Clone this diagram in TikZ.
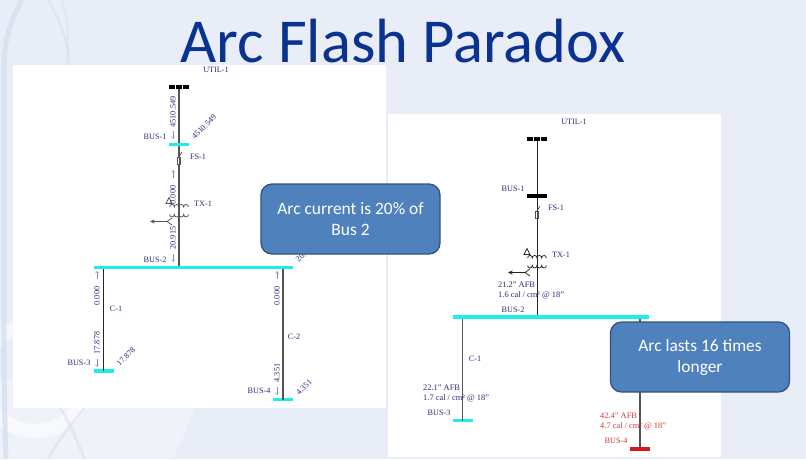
\documentclass[tikz,border=0pt]{standalone}
\usepackage{fontspec}
\setmainfont{Liberation Serif}
\newfontfamily\callfont{Carlito}
\usetikzlibrary{arrows.meta}
\definecolor{bgblue}{HTML}{E8EDF7}
\definecolor{bglight}{HTML}{EFF2F9}
\definecolor{bgband}{HTML}{D5E0EF}
\definecolor{titleblue}{HTML}{0A3290}
\definecolor{lbl}{HTML}{2B2B78}
\definecolor{busc}{HTML}{1FECEC}
\definecolor{wire}{HTML}{555555}
\definecolor{callfill}{HTML}{4F81BD}
\definecolor{calldraw}{HTML}{2F5583}
\definecolor{redc}{HTML}{D23A3A}
\definecolor{busred}{HTML}{D81818}
\tikzset{
  x=1pt,y=-1pt,
  lab/.style={font=\fontsize{8.2}{9}\selectfont,text=lbl,inner sep=0pt},
  afb/.style={font=\fontsize{8.4}{10}\selectfont,text=lbl,inner sep=0pt,align=left,anchor=west},
  afbred/.style={afb,text=redc},
  vlab/.style={lab,rotate=90},
  dlab/.style={lab,rotate=45},
  tinyarrow/.style={draw=lbl!55,line width=0.45pt,-{Straight Barb[length=2pt,width=3.2pt]}},
  busbar/.style={fill=busc,minimum height=3.8pt,inner sep=0pt,outer sep=0pt},
  busblack/.style={busbar,fill=black},
  busredbar/.style={busbar,fill=busred},
  wireline/.style={draw=wire,line width=1.2pt},
  blackline/.style={draw=black!85,line width=0.9pt},
  panel/.style={fill=white,draw=none},
  callout/.style={fill=callfill,draw=calldraw,line width=1.3pt,rounded corners=11pt,
    minimum width=179pt,minimum height=70pt,text=white,align=center,
    font=\callfont\fontsize{17.4}{21}\selectfont},
  sym/.style={draw=#1,line width=0.75pt},
  band/.style={draw=bgband,line width=#1},
}
% transformer symbol: x of the line, y of the upper coil, colour
\newcommand{\txsym}[3]{%
  \begin{scope}[shift={(#1,#2)}]
    \draw[sym=#3] (-9.4,0) arc[start angle=180,end angle=360,x radius=2.35,y radius=2.6]
      arc[start angle=180,end angle=360,x radius=2.35,y radius=2.6]
      arc[start angle=180,end angle=360,x radius=2.35,y radius=2.6]
      arc[start angle=180,end angle=360,x radius=2.35,y radius=2.6];
    \draw[sym=#3] (-9.4,7.4) arc[start angle=180,end angle=0,x radius=2.35,y radius=2.6]
      arc[start angle=180,end angle=0,x radius=2.35,y radius=2.6]
      arc[start angle=180,end angle=0,x radius=2.35,y radius=2.6]
      arc[start angle=180,end angle=0,x radius=2.35,y radius=2.6];
    \draw[sym=#3] (-13,-3.5) -- (-10,-9.5) -- (-7,-3.5) -- cycle;
    \draw[sym=#3] (-7,11) -- (-12,14.5) -- (-7,18) (-12,14.5) -- (-28,14.5);
    \draw[sym=#3] (-24.5,12.8) -- (-28,14.5) -- (-24.5,16.2);
  \end{scope}}
% fuse symbol
\newcommand{\fusesym}[3]{%
  \begin{scope}[shift={(#1,#2)}]
    \draw[sym=#3,fill=white] (-1.8,-1) rectangle (1.8,6);
    \draw[sym=#3] (0,-1) -- (3,-6);
    \draw[sym=#3] (0,-1) -- (0,6);
  \end{scope}}
\begin{document}
\begin{tikzpicture}
\useasboundingbox (0,0) rectangle (806,459);
\fill[bgblue] (0,0) rectangle (806,459);
% faint background swirls
\fill[bglight] (0,380) -- (200,380) .. controls (196,410) and (185,435) .. (172,459) -- (0,459) -- cycle;
\draw[white,opacity=0.55,line width=14pt] (35,378) circle[radius=53];
\draw[band=5pt,opacity=0.8] (22,0) .. controls (8,25) and (3,45) .. (4,80) .. controls (5,200) and (2,350) .. (6,459);
\draw[band=2pt,opacity=0.6] (48,0) .. controls (60,20) and (68,40) .. (70,70);
\draw[band=1.5pt,opacity=0.6] (62,0) .. controls (68,20) and (70,40) .. (66,70);
\draw[band=3pt,opacity=0.5] (85,408) .. controls (70,425) and (55,445) .. (48,459);
\draw[band=3pt,opacity=0.5] (60,408) .. controls (72,425) and (78,445) .. (85,459);
% title
\node[font=\callfont\fontsize{62.5}{66}\selectfont,text=titleblue,inner sep=0pt] (title) at (403,41) {Arc Flash Paradox};
% panels
\fill[panel] (13,65) rectangle (386,408);
\fill[panel] (388,114) rectangle (721,457);
% faint dot grid
\foreach \xx in {20,30,...,380}{\foreach \yy in {75,85,...,400}{\fill[black!7] (\xx,\yy) circle[radius=0.35];}}
\foreach \xx in {395,405,...,715}{\foreach \yy in {125,135,...,450}{\fill[black!7] (\xx,\yy) circle[radius=0.35];}}

% ---------- left one-line diagram ----------
\node[minimum width=19pt,minimum height=3pt,inner sep=0pt] (LU) at (179,87) {};
\node[busbar,minimum width=20pt] (LB1) at (179,144.5) {};
\node[busbar,minimum width=199pt] (LB2) at (193.5,267.5) {};
\node[busbar,minimum width=20pt] (LB3) at (103.5,371) {};
\node[busbar,minimum width=20pt] (LB4) at (283,399.5) {};
\coordinate (LT2) at (LB2.center -| LU);
\coordinate (LC1) at (LB2.center -| LB3);
\coordinate (LC2) at (LB2.center -| LB4);
\draw[wireline] (LU.center) -- (LB1.center);
\draw[wireline] (LB1.center) -- (LT2);
\draw[blackline] (LC1) -- (LB3.center);
\draw[wireline] (LC2) -- (LB4.center);
\node[busbar,minimum width=199pt] at (LB2.center) {};
\node[busbar,minimum width=20pt] at (LB1.center) {};
\foreach \dx in {-7,0,7} \fill[black] (179+\dx-2.8,85.3) rectangle (179+\dx+2.8,88.9);
\fusesym{179}{158}{wire}
\txsym{179}{207}{wire}
\node[lab] (lu1) at (216,70) {UTIL-1};
\node[lab] (lb1) at (155,137) {BUS-1};
\node[lab] (lf1) at (198,157) {FS-1};
\node[lab] (lt1) at (203,204) {TX-1};
\node[lab] (lb2) at (155,260) {BUS-2};
\node[lab] (lb3) at (79,363) {BUS-3};
\node[lab] (lb4) at (259,391) {BUS-4};
\node[lab] (lc1) at (116,309) {C-1};
\node[lab] (lc2) at (294,337) {C-2};
\node[vlab] at (173,112) {4510.549};
\node[vlab] at (173,195) {0.000};
\node[vlab] at (173,238) {20.915};
\node[vlab] at (97,296) {0.000};
\node[vlab] at (97,343) {17.878};
\node[vlab] at (277,296) {0.000};
\node[vlab] at (277,373) {4.351};
\node[dlab] at (204,127) {4510.549};
\node[dlab] at (305,253) {20.915};
\node[dlab] at (126,357) {17.878};
\node[dlab] at (304,387) {4.351};
\foreach \ax/\ay in {173/131,173/254,97/359,277/387}
  \draw[tinyarrow] (\ax,\ay) -- (\ax,\ay+8);
\foreach \ax/\ay in {173/178,97/279,277/279}
  \draw[tinyarrow] (\ax,\ay) -- (\ax,\ay-8);

% ---------- right one-line diagram ----------
\node[minimum width=19pt,minimum height=3pt,inner sep=0pt] (RU) at (537,139) {};
\node[busblack,minimum width=20pt] (RB1) at (537,196) {};
\node[busbar,minimum width=196pt] (RB2) at (551,317) {};
\node[busbar,minimum width=20pt] (RB3) at (462.5,420.5) {};
\node[busredbar,minimum width=20pt] (RB4) at (640,449) {};
\coordinate (RT2) at (RB2.center -| RU);
\coordinate (RC1) at (RB2.center -| RB3);
\coordinate (RC2) at (RB2.center -| RB4);
\draw[blackline] (RU.center) -- (RB1.center);
\draw[blackline] (RB1.center) -- (RT2);
\draw[wireline] (RC1) -- (RB3.center);
\draw[wireline] (RC2) -- (RB4.center);
\node[busbar,minimum width=196pt] at (RB2.center) {};
\node[busblack,minimum width=20pt] at (RB1.center) {};
\node[busredbar,minimum width=20pt] at (RB4.center) {};
\foreach \dx in {-7,0,7} \fill[black] (537+\dx-2.8,137.3) rectangle (537+\dx+2.8,140.9);
\fusesym{537}{212}{black!70}
\txsym{537}{258}{black!85}
\node[lab] (ru1) at (574,122) {UTIL-1};
\node[lab] (rb1) at (513,189) {BUS-1};
\node[lab] (rf1) at (556,208) {FS-1};
\node[lab] (rt1) at (561,255) {TX-1};
\node[lab] (rb2) at (513,310) {BUS-2};
\node[lab] (rc1) at (475,359) {C-1};
\node[lab] (rb3) at (439,413) {BUS-3};
\node[lab,text=redc] (rb4) at (616,441) {BUS-4};
\node[afb] (ra1) at (498,290.5) {21.2" AFB\\1.6 cal / cm² @ 18"};
\node[afb] (ra3) at (423,393.5) {22.1" AFB\\1.7 cal / cm² @ 18"};
\node[afbred] (ra4) at (600,421.5) {42.4" AFB\\4.7 cal / cm² @ 18"};

% ---------- callouts ----------
\node[callout] (c1) at (350.5,219) {Arc current is 20\% of\\Bus 2};
\node[callout] (c2) at (700,357) {Arc lasts 16 times\\longer};
\end{tikzpicture}
\end{document}
